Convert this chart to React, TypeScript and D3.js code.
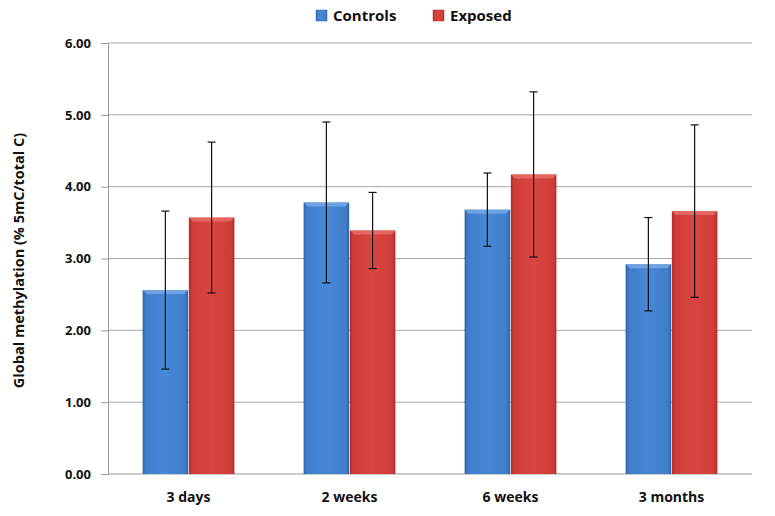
import React, { useEffect, useRef } from 'react'
import * as d3 from 'd3'

const categories = ['3 days', '2 weeks', '6 weeks', '3 months']
const seriesNames = ['Controls', 'Exposed']
const controlMeans = [2.56, 3.78, 3.68, 2.92]
const controlErr = [1.1, 1.12, 0.51, 0.65]
const exposedMeans = [3.57, 3.39, 4.17, 3.66]
const exposedErr = [1.05, 0.53, 1.15, 1.2]
const yTicks = [0, 1, 2, 3, 4, 5, 6]

const W = 775
const H = 516

export default function App() {
  const svgRef = useRef<SVGSVGElement>(null)

  useEffect(() => {
    if (!svgRef.current) return
    const svg = d3.select(svgRef.current)
    svg.selectAll('*').remove()

    const font = "'Open Sans', 'Noto Sans', sans-serif"
    const left = 108
    const right = 752
    const top = 43
    const bottom = 474

    const x = d3.scaleBand<string>().domain(categories).range([left, right]).paddingInner(0.43).paddingOuter(0.215)
    const x1 = d3.scaleBand<string>().domain(seriesNames).range([0, x.bandwidth()]).paddingInner(0.015)
    const y = d3.scaleLinear().domain([0, 6]).range([bottom, top])

    const defs = svg.append('defs')
    const colors = [
      { id: 'gBlue', dark: '#2f63a6', mid: '#3f7dcb', light: '#4888d6', top: '#78aae6' },
      { id: 'gRed', dark: '#a82d2a', mid: '#cf3c38', light: '#d84642', top: '#e8716b' },
    ]
    colors.forEach(c => {
      const g = defs.append('linearGradient').attr('id', c.id).attr('x1', 0).attr('x2', 1).attr('y1', 0).attr('y2', 0)
      g.append('stop').attr('offset', '0%').attr('stop-color', c.dark)
      g.append('stop').attr('offset', '7%').attr('stop-color', c.mid)
      g.append('stop').attr('offset', '50%').attr('stop-color', c.light)
      g.append('stop').attr('offset', '93%').attr('stop-color', c.mid)
      g.append('stop').attr('offset', '100%').attr('stop-color', c.dark)
    })

    // gridlines
    svg.append('g')
      .selectAll('line')
      .data(yTicks.filter(t => t > 0))
      .join('line')
      .attr('x1', left)
      .attr('x2', right)
      .attr('y1', d => y(d))
      .attr('y2', d => y(d))
      .attr('stroke', '#a6a6a6')
      .attr('stroke-width', 1)

    // y axis
    const yAxis = svg.append('g')
      .attr('transform', `translate(${left},0)`)
      .call(d3.axisLeft(y).tickValues(yTicks).tickFormat(d3.format('.2f')).tickSize(7).tickPadding(10))
    yAxis.select('.domain').attr('stroke', '#999')
    yAxis.selectAll('.tick line').attr('stroke', '#999')
    yAxis.selectAll('.tick text')
      .attr('font-family', font)
      .attr('font-weight', 'bold')
      .attr('font-size', 13)
      .attr('fill', '#111')

    // x baseline
    svg.append('line')
      .attr('x1', left).attr('x2', right)
      .attr('y1', bottom).attr('y2', bottom)
      .attr('stroke', '#999')

    const series = [
      { name: 'Controls', means: controlMeans, errs: controlErr, c: colors[0] },
      { name: 'Exposed', means: exposedMeans, errs: exposedErr, c: colors[1] },
    ]

    series.forEach(s => {
      const g = svg.append('g')
      categories.forEach((cat, i) => {
        const bx = (x(cat) ?? 0) + (x1(s.name) ?? 0)
        const bw = x1.bandwidth()
        const by = y(s.means[i])
        g.append('rect')
          .attr('x', bx).attr('y', by)
          .attr('width', bw).attr('height', bottom - by)
          .attr('fill', `url(#${s.c.id})`)
        // top bevel
        g.append('path')
          .attr('d', `M${bx},${by} L${bx + bw},${by} L${bx + bw - 4},${by + 4} L${bx + 4},${by + 4} Z`)
          .attr('fill', s.c.top)
          .attr('opacity', 0.8)
      })
    })

    // error bars
    series.forEach(s => {
      categories.forEach((cat, i) => {
        const cx = (x(cat) ?? 0) + (x1(s.name) ?? 0) + x1.bandwidth() / 2
        const hi = y(s.means[i] + s.errs[i])
        const lo = y(s.means[i] - s.errs[i])
        const eg = svg.append('g').attr('stroke', '#111').attr('stroke-width', 1.2)
        eg.append('line').attr('x1', cx).attr('x2', cx).attr('y1', hi).attr('y2', lo)
        eg.append('line').attr('x1', cx - 4).attr('x2', cx + 4).attr('y1', hi).attr('y2', hi)
        eg.append('line').attr('x1', cx - 4).attr('x2', cx + 4).attr('y1', lo).attr('y2', lo)
      })
    })

    // x labels
    svg.append('g')
      .selectAll('text')
      .data(categories)
      .join('text')
      .attr('x', d => (x(d) ?? 0) + x.bandwidth() / 2)
      .attr('y', 502)
      .attr('text-anchor', 'middle')
      .attr('font-family', font)
      .attr('font-weight', 'bold')
      .attr('font-size', 14)
      .attr('fill', '#111')
      .text(d => d)

    // y title
    svg.append('text')
      .attr('transform', `translate(24,${(top + bottom) / 2 + 2}) rotate(-90)`)
      .attr('text-anchor', 'middle')
      .attr('font-family', font)
      .attr('font-weight', 'bold')
      .attr('font-size', 14.5)
      .attr('fill', '#111')
      .text('Global methylation (% 5mC/total C)')

    // legend
    const legendX = [316, 433]
    series.forEach((s, i) => {
      const lg = svg.append('g').attr('transform', `translate(${legendX[i]},10)`)
      lg.append('rect').attr('width', 11).attr('height', 11).attr('fill', `url(#${s.c.id})`).attr('stroke', s.c.dark).attr('stroke-width', 0.5)
      lg.append('text')
        .attr('x', 17).attr('y', 11)
        .attr('font-family', font)
        .attr('font-weight', 'bold')
        .attr('font-size', 15)
        .attr('fill', '#111')
        .text(s.name)
    })
  }, [])

  return <svg ref={svgRef} width={W} height={H} style={{ display: 'block', margin: '-8px', background: '#fff' }} />
}
